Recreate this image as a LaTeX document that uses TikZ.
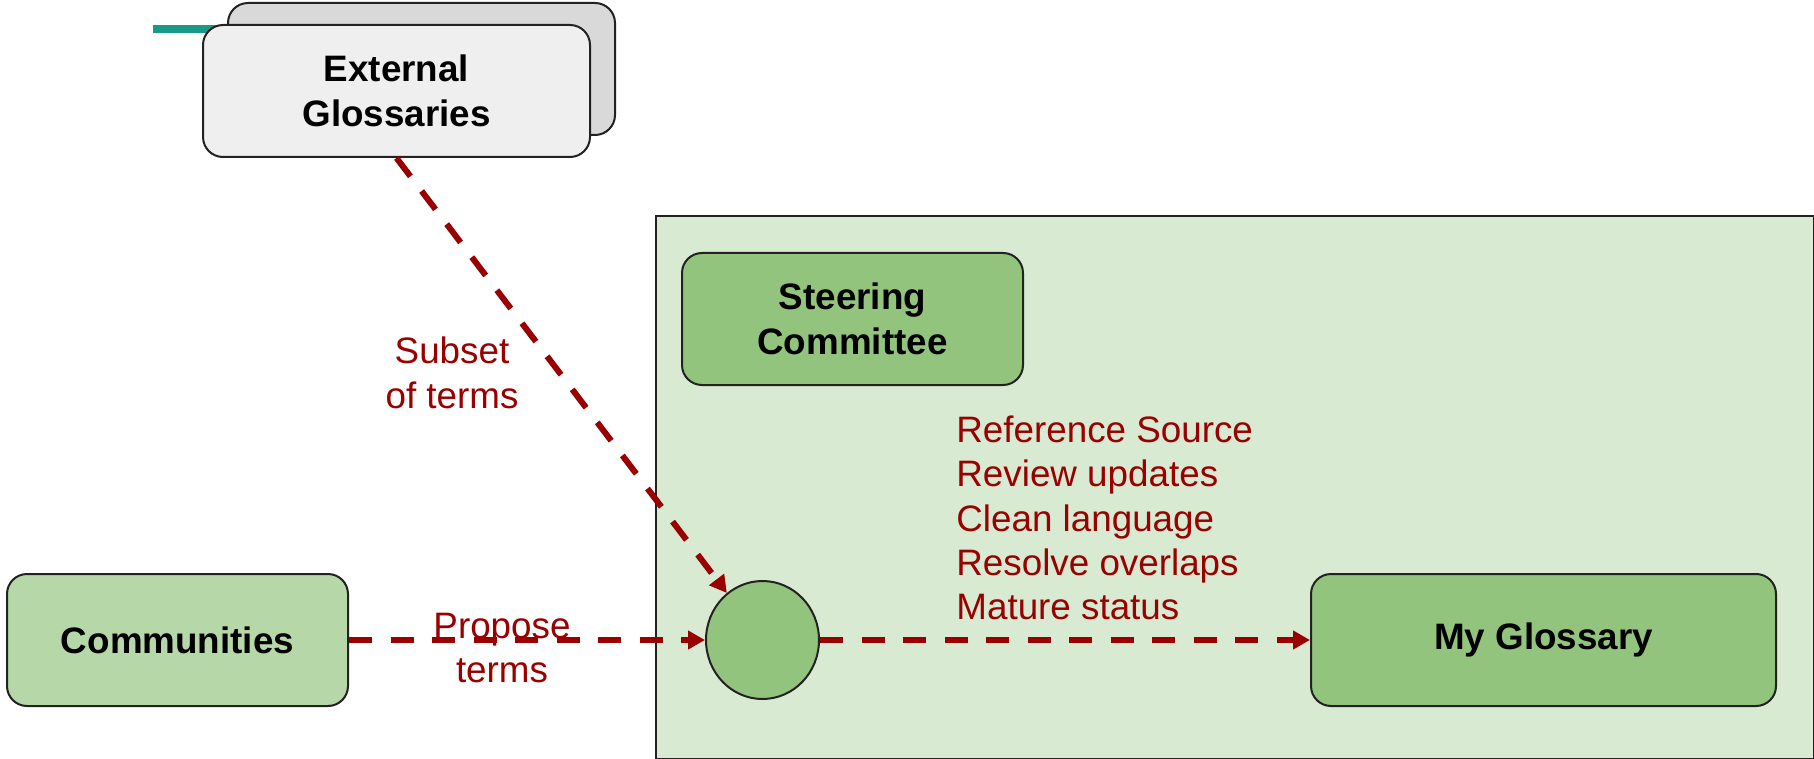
\documentclass[tikz,border=0pt]{standalone}
\usepackage{fontspec}
\setmainfont{Liberation Sans}
\usetikzlibrary{arrows.meta,positioning,shapes.geometric}
\definecolor{termred}{HTML}{990000}
\definecolor{boxline}{HTML}{222222}
\definecolor{paleboard}{HTML}{D9EAD3}
\definecolor{midgreen}{HTML}{B6D7A8}
\definecolor{leafgreen}{HTML}{93C47D}
\definecolor{lightgrey}{HTML}{EFEFEF}
\definecolor{backgrey}{HTML}{D9D9D9}
\definecolor{tealbar}{RGB}{24,154,136}

\begin{document}
\begin{tikzpicture}[x=0.5pt, y=-0.5pt, box/.style={draw=boxline, line width=1pt, rounded corners=10pt, align=center, minimum width=170.5pt, minimum height=66pt, inner sep=0pt, font=\bfseries\fontsize{18.4}{22.2}\selectfont}, flow/.style={-{Triangle[length=8.5pt,width=9pt]}, termred, line width=3pt, dash pattern=on 11.5pt off 9.25pt}, lbl/.style={text=termred, inner sep=0pt, font=\fontsize{18.4}{22.2}\selectfont}]
\useasboundingbox (0,0) rectangle (1814,759);
\coordinate (tealstart) at (153,29);
\node[box, fill=backgrey, minimum width=193.5pt] (extback) at (421.5,69) {};
\draw[tealbar, line width=4pt] (tealstart) -- (tealstart -| extback.west);
\node[box, fill=lightgrey, minimum width=193.5pt] (ext) at (396.5,91) {External\\Glossaries};
\node[draw=boxline, line width=0.8pt, fill=paleboard, anchor=north west, minimum width=579pt, minimum height=271.5pt] (board) at (655,215) {};
\node[box, fill=leafgreen] (steer) at (852.5,319) {Steering\\Committee};
\node[ellipse, draw=boxline, line width=1pt, fill=leafgreen, minimum width=56.5pt, minimum height=59pt, inner sep=0pt] (hub) at (762.5,640) {};
\node[box, fill=midgreen] (comm) at (177.5,640) {Communities};
\node[box, fill=leafgreen, minimum width=232.5pt] (mygloss) at (1543.5,640) {My Glossary};
\draw[flow] (ext.south) -- (hub);
\draw[flow] (comm) -- (hub);
\draw[flow] (hub) -- (mygloss);
\node[lbl, align=center] (subsetlbl) at (452,373) {Subset\\of terms};
\node[lbl, align=center] (proposelbl) at (502,648) {Propose\\terms};
\node[lbl, align=left, anchor=west] (tasks) at (956,518) {Reference Source\\Review updates\\Clean language\\Resolve overlaps\\Mature status};
\end{tikzpicture}
\end{document}
